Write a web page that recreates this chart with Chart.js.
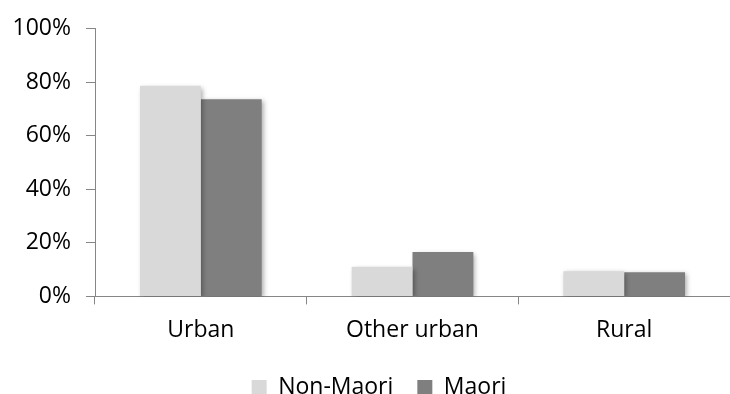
<!DOCTYPE html>
<html>
<head>
<meta charset="utf-8">
<script src="https://cdn.jsdelivr.net/npm/chart.js@4"></script>
<style>
  html, body { margin: 0; padding: 0; background: #fff; overflow: hidden; }
  #wrap { width: 730px; height: 413px; }
</style>
</head>
<body>
<div id="wrap"><canvas id="chart" width="730" height="413"></canvas></div>
<script>
// Share of population by area type
const categories = ['Urban', 'Other urban', 'Rural'];
const nonMaori = [78.7, 11.1, 9.4];
const maori = [73.7, 16.6, 9.0];
const yTicks = [0, 20, 40, 60, 80, 100];

const AXIS = '#868686';
const FONT = { family: '"Open Sans", sans-serif', size: 23 };

// Soft drop shadow under the bars
const barShadow = {
  id: 'barShadow',
  beforeDatasetsDraw(chart) {
    const ctx = chart.ctx;
    ctx.save();
    ctx.shadowColor = 'rgba(0,0,0,0.35)';
    ctx.shadowBlur = 5;
    ctx.shadowOffsetX = 2;
    ctx.shadowOffsetY = 2;
  },
  afterDatasetsDraw(chart) {
    chart.ctx.restore();
  }
};

// Nudge the legend row slightly right and up
const legendShift = {
  id: 'legendShift',
  afterLayout(chart) {
    const lg = chart.legend;
    if (lg) { lg.left += 8; lg.right += 8; lg.top -= 4; lg.bottom -= 4; }
  }
};

new Chart(document.getElementById('chart'), {
  type: 'bar',
  data: {
    labels: categories,
    datasets: [
      { label: 'Non-Maori', data: nonMaori, backgroundColor: '#D9D9D9' },
      { label: 'Maori', data: maori, backgroundColor: '#7F7F7F' }
    ]
  },
  options: {
    responsive: false,
    animation: false,
    devicePixelRatio: 1,
    layout: { padding: { left: 12, right: 0, top: 10, bottom: 0 } },
    datasets: { bar: { categoryPercentage: 0.575, barPercentage: 1.0 } },
    plugins: {
      tooltip: { enabled: false },
      legend: {
        position: 'bottom',
        labels: {
          font: FONT, color: '#000',
          boxWidth: 15, boxHeight: 15, padding: 24
        }
      }
    },
    scales: {
      x: {
        grid: { offset: true, drawOnChartArea: false, drawTicks: true, tickLength: 8, color: AXIS, lineWidth: 1 },
        border: { color: AXIS, width: 1 },
        ticks: { font: FONT, color: '#000', padding: 12 }
      },
      y: {
        min: 0, max: 100,
        afterBuildTicks(scale) { scale.ticks = yTicks.map(v => ({ value: v })); },
        afterFit(scale) { scale.width = 83; },
        grid: { drawOnChartArea: false, drawTicks: true, tickLength: 9, color: AXIS, lineWidth: 1 },
        border: { color: AXIS, width: 1 },
        ticks: { font: FONT, color: '#000', padding: 15, callback: v => v + '%' }
      }
    }
  },
  plugins: [barShadow, legendShift]
});
</script>
</body>
</html>
